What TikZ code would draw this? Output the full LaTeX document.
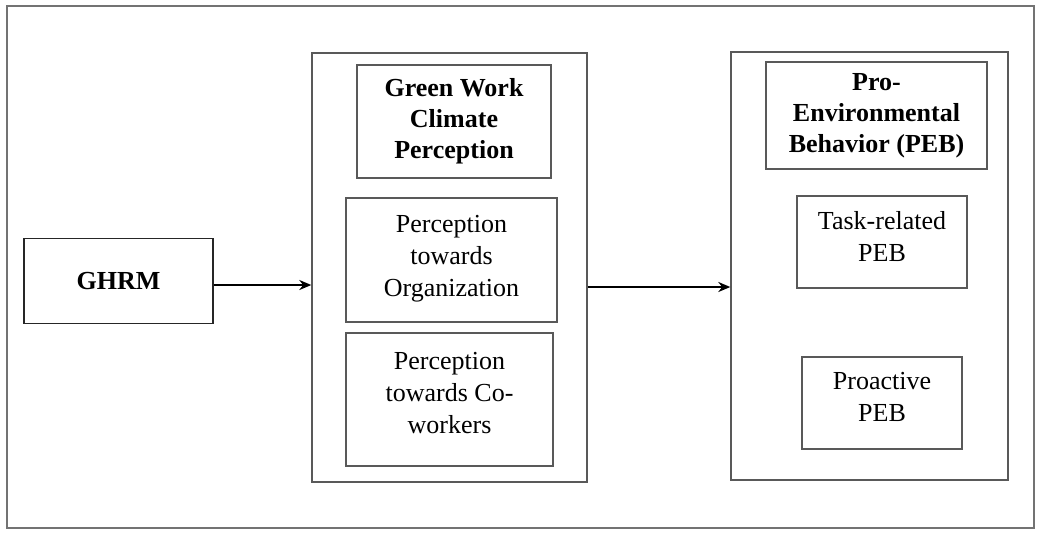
\documentclass[tikz,border=0pt]{standalone}
\usepackage{fontspec}
\setmainfont{Liberation Serif}
\usetikzlibrary{arrows.meta}
\usetikzlibrary{positioning}

\begin{document}
\begin{tikzpicture}[>={Stealth[length=6pt,width=5pt]}, x=0.5pt, y=-0.5pt,
    box/.style={draw=black!65, line width=0.7pt, align=center, inner sep=0pt, font=\fontsize{13}{16}\selectfont},
    headbox/.style={box, font=\fontsize{13}{15.5}\selectfont\bfseries}]

    \useasboundingbox (0,0) rectangle (1038,532);
    \draw[black!55, line width=1pt] (7,6) rectangle (1034,528);

    % left: GHRM
    \node[headbox, draw=black!85, line width=0.9pt, minimum width=94.5pt, minimum height=42.5pt] (ghrm) at (118.5,281) {GHRM};

    % middle: green work climate perception
    \node[box, minimum width=137.5pt, minimum height=214.5pt] (mid) at (449.5,267.5) {};
    \node[headbox, minimum width=97pt, minimum height=56.5pt] (gwcp) at (454,121.5) {Green Work\\Climate\\Perception};
    \node[box, minimum width=105.5pt, minimum height=62pt] (org) at (451.5,260) {Perception\\towards\\Organization\\[-12pt]};
    \node[box, minimum width=103.5pt, minimum height=66.5pt] (cow) at (449.5,399.5) {Perception\\towards Co-\\workers\\[-9pt]};

    % right: pro-environmental behavior
    \node[box, minimum width=138.5pt, minimum height=214pt] (peb) at (869.5,266) {};
    \node[headbox, minimum width=110.5pt, minimum height=53.5pt] (pebhead) at (876.5,115.5) {Pro-\\Environmental\\Behavior (PEB)};
    \node[box, minimum width=85pt, minimum height=46pt] (task) at (882,242) {Task-related\\PEB\\[-10pt]};
    \node[box, minimum width=80pt, minimum height=46pt] (proact) at (882,403) {Proactive\\PEB\\[-10pt]};

    \draw[->, line width=1pt] ([yshift=-2pt]ghrm.east) -- ([yshift=-2pt]ghrm.east -| mid.west);
    \draw[->, line width=1pt] ([yshift=-9.75pt]mid.east) -- ([yshift=-9.75pt]mid.east -| peb.west);

\end{tikzpicture}
\end{document}
